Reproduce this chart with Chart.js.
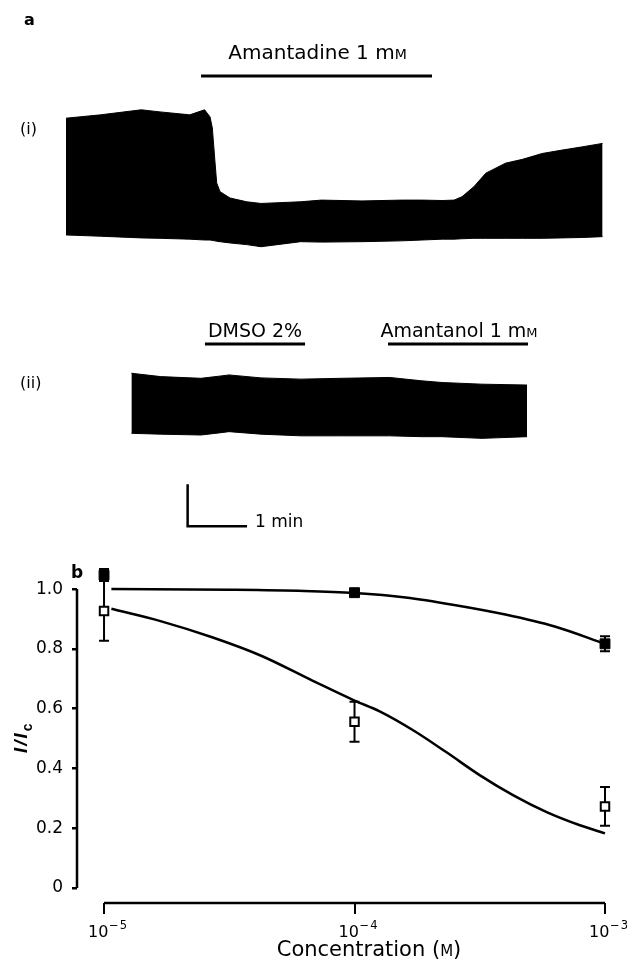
<!DOCTYPE html>
<html>
<head>
<meta charset="utf-8">
<script src="https://cdn.jsdelivr.net/npm/chart.js@4.4.0/dist/chart.umd.min.js"></script>
<style>
  body { margin: 0; background: #fff; width: 630px; height: 965px; position: relative; overflow: hidden; }
  canvas { position: absolute; left: 0; }
</style>
</head>
<body>
<canvas id="traceA" width="630" height="270" style="top:0"></canvas>
<canvas id="traceB" width="630" height="270" style="top:270px"></canvas>
<canvas id="dose" width="630" height="425" style="top:540px"></canvas>
<script>
// trace (i): time (s), current envelope (scale-bar units)
const traceATime = [0, 35, 76, 95, 125, 140, 145.5, 147.8, 150.5, 152.2, 155.6, 165.7, 182.5, 197, 237, 258, 299, 339, 360, 380, 392, 400, 412, 424, 444, 461, 481, 501, 522, 542];
const traceATop = [2.90, 2.98, 3.10, 3.05, 2.98, 3.10, 2.93, 2.67, 1.86, 1.36, 1.15, 1.00, 0.91, 0.87, 0.91, 0.95, 0.93, 0.95, 0.95, 0.94, 0.95, 1.03, 1.27, 1.59, 1.83, 1.92, 2.06, 2.14, 2.22, 2.30];
const traceABottom = [0.12, 0.09, 0.05, 0.04, 0.02, 0.00, 0.00, -0.01, -0.02, -0.03, -0.04, -0.07, -0.11, -0.16, -0.04, -0.05, -0.04, -0.02, 0.00, 0.02, 0.02, 0.03, 0.04, 0.04, 0.04, 0.04, 0.04, 0.05, 0.06, 0.08];

// trace (ii)
const traceBTime = [0, 29.6, 70.3, 88.5, 98.6, 130.9, 171.3, 212.2, 260.9, 293.3, 313.7, 354.1, 399.6];
const traceBTop = [1.47, 1.39, 1.35, 1.40, 1.43, 1.36, 1.33, 1.35, 1.37, 1.29, 1.25, 1.21, 1.19];
const traceBBottom = [0.04, 0.02, 0.00, 0.05, 0.08, 0.02, -0.02, -0.02, -0.02, -0.04, -0.04, -0.08, -0.04];

// drug application periods (s)
const amantadineOn = [136.4, 369.7];
const dmsoOn = [74.3, 175.4];
const amantanolOn = [259.2, 400.6];
const scaleBarTime = 60;
const scaleBarCurrent = 1;

// panel b
const concTicks = [1e-5, 1e-4, 1e-3];
const ratioTicks = [0, 0.2, 0.4, 0.6, 0.8, 1.0];
const conc = [1e-5, 1e-4, 1e-3];
const filledMean = [1.047, 0.988, 0.817];
const filledErr = [0.02, 0.01, 0.025];
const openMean = [0.927, 0.556, 0.273];
const openErr = [0.10, 0.067, 0.065];
const fitHighX = [1.07e-5, 3.2e-5, 6.3e-5, 1e-4, 1.6e-4, 2.5e-4, 4e-4, 6.3e-4, 1e-3];
const fitHighY = [1.0, 0.998, 0.994, 0.987, 0.972, 0.947, 0.915, 0.875, 0.817];
const fitLowX = [1.07e-5, 1.68e-5, 2.72e-5, 4.24e-5, 6.82e-5, 1e-4, 1.26e-4, 1.72e-4, 2.33e-4, 3.17e-4, 4.31e-4, 5.85e-4, 7.94e-4, 1e-3];
const fitLowY = [0.934, 0.893, 0.838, 0.777, 0.693, 0.627, 0.591, 0.527, 0.454, 0.377, 0.31, 0.254, 0.21, 0.183];

const FONT = '"DejaVu Sans", sans-serif';
const FONT2 = '"Liberation Sans", Arial, sans-serif';

// draw a row of text pieces with different fonts (for the small-cap M)
function drawRuns(ctx, runs, x, y, align, spacing) {
    ctx.save();
    ctx.fillStyle = '#000';
    ctx.textBaseline = 'alphabetic';
    ctx.textAlign = 'left';
    ctx.letterSpacing = (spacing || 0) + 'px';
    let widths = runs.map(r => { ctx.font = r[1]; return ctx.measureText(r[0]).width; });
    let total = widths.reduce((a, b) => a + b, 0);
    let cx = align === 'center' ? x - total / 2 : x;
    runs.forEach((r, i) => {
        ctx.font = r[1];
        ctx.fillText(r[0], cx, y);
        cx += widths[i];
    });
    ctx.restore();
}

function drugBar(ctx, x1, x2, y) {
    ctx.save();
    ctx.strokeStyle = '#000';
    ctx.lineWidth = 3;
    ctx.beginPath();
    ctx.moveTo(x1, y);
    ctx.lineTo(x2, y);
    ctx.stroke();
    ctx.restore();
}

function traceChart(id, time, top, bottom, x0, yMin, yMax, extra) {
    const pxPerSec = 0.99;
    return new Chart(document.getElementById(id), {
        type: 'line',
        data: {
            datasets: [
                {
                    data: time.map((t, i) => ({ x: t, y: bottom[i] })),
                    borderColor: '#000',
                    borderWidth: 1,
                    pointRadius: 0,
                    fill: false
                },
                {
                    data: time.map((t, i) => ({ x: t, y: top[i] })),
                    borderColor: '#000',
                    borderWidth: 1,
                    pointRadius: 0,
                    backgroundColor: '#000',
                    fill: '-1'
                }
            ]
        },
        options: {
            responsive: false,
            animation: false,
            events: [],
            layout: { padding: 0, autoPadding: false },
            scales: {
                x: { type: 'linear', display: false, min: -x0 / pxPerSec, max: (630 - x0) / pxPerSec },
                y: { display: false, min: yMin, max: yMax }
            },
            plugins: { legend: { display: false }, tooltip: { enabled: false } }
        },
        plugins: [extra]
    });
}

traceChart('traceA', traceATime, traceATop, traceABottom, 66, -30 / 42, 240 / 42, {
    id: 'labelsA',
    afterDraw(chart) {
        const ctx = chart.ctx, xs = chart.scales.x;
        const a = xs.getPixelForValue(amantadineOn[0]), b = xs.getPixelForValue(amantadineOn[1]);
        drugBar(ctx, a, b, 76);
        drawRuns(ctx, [['Amantadine 1 m', '20px ' + FONT], ['M', '14px ' + FONT]], (a + b) / 2 + 1, 59, 'center');
        drawRuns(ctx, [['a', 'bold 16px ' + FONT]], 24, 25, 'left');
        drawRuns(ctx, [['(i)', '16px ' + FONT]], 20, 134, 'left');
    }
});

traceChart('traceB', traceBTime, traceBTop, traceBBottom, 131.4, -105 / 42, 165 / 42, {
    id: 'labelsB',
    afterDraw(chart) {
        const ctx = chart.ctx, xs = chart.scales.x, ys = chart.scales.y;
        let a = xs.getPixelForValue(dmsoOn[0]), b = xs.getPixelForValue(dmsoOn[1]);
        drugBar(ctx, a, b, 74);
        drawRuns(ctx, [['DMSO 2%', '19px ' + FONT]], (a + b) / 2, 67, 'center');
        a = xs.getPixelForValue(amantanolOn[0]); b = xs.getPixelForValue(amantanolOn[1]);
        drugBar(ctx, a, b, 74);
        drawRuns(ctx, [['Amantanol 1 m', '19px ' + FONT], ['M', '13px ' + FONT]], (a + b) / 2 + 1, 67, 'center');
        drawRuns(ctx, [['(ii)', '16px ' + FONT]], 20, 118, 'left');

        // scale bar
        const t0 = 56.8, v0 = -2.17;
        const sx1 = xs.getPixelForValue(t0), sx2 = xs.getPixelForValue(t0 + scaleBarTime);
        const sy1 = ys.getPixelForValue(v0), sy2 = ys.getPixelForValue(v0 + scaleBarCurrent);
        ctx.save();
        ctx.strokeStyle = '#000';
        ctx.lineWidth = 2.5;
        ctx.beginPath();
        ctx.moveTo(sx1, sy2);
        ctx.lineTo(sx1, sy1);
        ctx.lineTo(sx2, sy1);
        ctx.stroke();
        ctx.restore();
        drawRuns(ctx, [['1 min', '17px ' + FONT]], sx2 + 8, sy1 + 1, 'left');
    }
});

// panel b extras: detached axis lines, error bars, labels
const doseExtras = {
    id: 'doseExtras',
    beforeDatasetsDraw(chart) {
        const ctx = chart.ctx, xs = chart.scales.x, ys = chart.scales.y, area = chart.chartArea;
        ctx.save();
        ctx.strokeStyle = '#000';
        ctx.lineWidth = 2.5;
        ctx.beginPath();
        ctx.moveTo(area.left, ys.getPixelForValue(0));
        ctx.lineTo(area.left, ys.getPixelForValue(1));
        ctx.moveTo(xs.getPixelForValue(concTicks[0]), area.bottom);
        ctx.lineTo(xs.getPixelForValue(concTicks[concTicks.length - 1]), area.bottom);
        ctx.stroke();

        // error bars
        ctx.lineWidth = 2;
        chart.data.datasets.forEach(ds => {
            if (!ds.err) return;
            ds.data.forEach((p, i) => {
                const x = xs.getPixelForValue(p.x);
                const y1 = ys.getPixelForValue(p.y + ds.err[i]);
                const y2 = ys.getPixelForValue(p.y - ds.err[i]);
                ctx.beginPath();
                ctx.moveTo(x, y1); ctx.lineTo(x, y2);
                ctx.moveTo(x - 5, y1); ctx.lineTo(x + 5, y1);
                ctx.moveTo(x - 5, y2); ctx.lineTo(x + 5, y2);
                ctx.stroke();
            });
        });
        ctx.restore();
    },
    afterDraw(chart) {
        const ctx = chart.ctx, xs = chart.scales.x;
        // x tick labels 10^n
        concTicks.forEach(v => {
            const px = xs.getPixelForValue(v);
            const exp = Math.round(Math.log10(v));
            drawRuns(ctx, [['10', '16px ' + FONT]], px - 16, 397, 'left');
            drawRuns(ctx, [['\u2212' + Math.abs(exp), '11.5px ' + FONT]], px + 5, 389, 'left', 1);
        });
        drawRuns(ctx, [['Concentration (', '21px ' + FONT], ['M', '15px ' + FONT], [')', '21px ' + FONT]], 369, 416, 'center');

        // y title I/Ic
        ctx.save();
        ctx.translate(27, 213);
        ctx.rotate(-Math.PI / 2);
        ctx.fillStyle = '#000';
        ctx.letterSpacing = '2px';
        ctx.font = 'italic bold 19px ' + FONT2;
        ctx.fillText('I/I', 0, 0);
        const w = ctx.measureText('I/I').width;
        ctx.font = 'bold 14px ' + FONT2;
        ctx.fillText('c', w, 5);
        ctx.restore();

        drawRuns(ctx, [['b', 'bold 17px ' + FONT]], 71, 38, 'left');
    }
};

new Chart(document.getElementById('dose'), {
    type: 'scatter',
    data: {
        datasets: [
            {
                type: 'line',
                data: fitHighX.map((x, i) => ({ x: x, y: fitHighY[i] })),
                borderColor: '#000',
                borderWidth: 2.5,
                pointRadius: 0,
                cubicInterpolationMode: 'monotone',
                clip: false
            },
            {
                type: 'line',
                data: fitLowX.map((x, i) => ({ x: x, y: fitLowY[i] })),
                borderColor: '#000',
                borderWidth: 2.5,
                pointRadius: 0,
                cubicInterpolationMode: 'monotone',
                clip: false
            },
            {
                data: conc.map((x, i) => ({ x: x, y: openMean[i] })),
                err: openErr,
                pointStyle: 'rect',
                pointRadius: 6,
                backgroundColor: '#fff',
                borderColor: '#000',
                borderWidth: 2,
                clip: false
            },
            {
                data: conc.map((x, i) => ({ x: x, y: filledMean[i] })),
                err: filledErr,
                pointStyle: 'rect',
                pointRadius: 7,
                backgroundColor: '#000',
                borderColor: '#000',
                borderWidth: 1,
                clip: false
            }
        ]
    },
    options: {
        responsive: false,
        animation: false,
        events: [],
        layout: { padding: { top: 18, right: 25, left: 0, bottom: 0 }, autoPadding: false },
        scales: {
            x: {
                type: 'logarithmic',
                min: 7.8e-6,
                max: 1e-3,
                afterBuildTicks: s => { s.ticks = concTicks.map(v => ({ value: v })); },
                afterFit: s => { s.height = 62; },
                ticks: { display: false },
                grid: { drawOnChartArea: false, drawTicks: true, tickLength: 11, lineWidth: 2, color: '#000' },
                border: { display: false }
            },
            y: {
                min: -0.05,
                max: 1.1,
                afterBuildTicks: s => { s.ticks = ratioTicks.map(v => ({ value: v })); },
                afterFit: s => { s.width = 77; },
                ticks: {
                    color: '#000',
                    padding: 9,
                    font: { family: FONT, size: 17 },
                    callback: v => v === 0 ? '0' : v.toFixed(1)
                },
                grid: { drawOnChartArea: false, tickLength: 5, lineWidth: 2.5, color: '#000' },
                border: { display: false }
            }
        },
        plugins: { legend: { display: false }, tooltip: { enabled: false } }
    },
    plugins: [doseExtras]
});
</script>
</body>
</html>
